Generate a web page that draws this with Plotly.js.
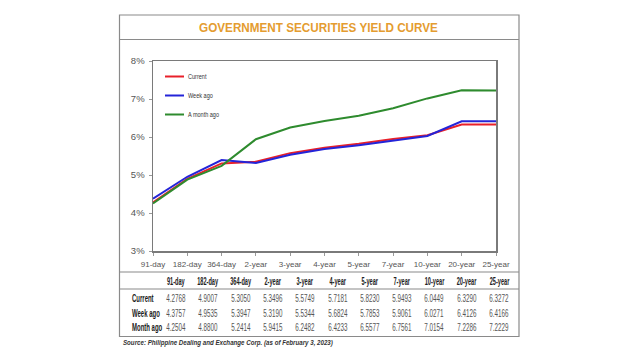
<!DOCTYPE html>
<html>
<head>
<meta charset="utf-8">
<script src="https://cdn.plot.ly/plotly-3.0.1.min.js"></script>
<style>html,body{margin:0;padding:0;background:#fff;}#chart{width:640px;height:360px;}</style>
</head>
<body>
<div id="chart"></div>
<script>
const tenors = ["91-day","182-day","364-day","2-year","3-year","4-year","5-year","7-year","10-year","20-year","25-year"];
const current  = [4.2768,4.9007,5.3050,5.3496,5.5749,5.7181,5.8230,5.9493,6.0449,6.3290,6.3272];
const weekAgo  = [4.3757,4.9535,5.3947,5.3190,5.5344,5.6824,5.7853,5.9061,6.0271,6.4126,6.4166];
const monthAgo = [4.2504,4.8800,5.2414,5.9415,6.2482,6.4233,6.5577,6.7561,7.0154,7.2286,7.2229];
const seriesNames = ["Current","Week ago","A month ago"];
const rowLabels = ["Current","Week ago","Month ago"];
const titleText = "GOVERNMENT SECURITIES YIELD CURVE";
const sourceText = "Source: Philippine Dealing and Exchange Corp. (as of February 3, 2023)";

// plot area in pixels
const L = 153, R = 496, T = 61, B = 251;
const px = x => (x - L) / (R - L);
const py = y => (B - y) / (B - T);

const sans = '"Liberation Sans", Arial, sans-serif';
const colors = ["#e8202a", "#2424d8", "#2e8b2e"];
const allSeries = [current, weekAgo, monthAgo];

const traces = allSeries.map((s, i) => ({
  x: tenors, y: s, type: "scatter", mode: "lines", name: seriesNames[i],
  line: {color: colors[i], width: 2}
}));

// table annotations (with a horizontal condensing factor each)
const annotations = [];
const squeeze = [];
const colX = i => 176 + i * 32.3;
tenors.forEach((t, i) => {
  annotations.push({xref: "paper", yref: "paper", x: px(colX(i)), y: py(281), text: "<b>" + t + "</b>",
    showarrow: false, xanchor: "center", yanchor: "middle", font: {family: sans, size: 10, color: "#222"}});
  squeeze.push(0.56);
});
const rowY = [298, 312.5, 327];
allSeries.forEach((s, r) => {
  annotations.push({xref: "paper", yref: "paper", x: px(130), y: py(rowY[r]), text: "<b>" + rowLabels[r] + "</b>",
    showarrow: false, xanchor: "left", align: "left", yanchor: "middle", font: {family: sans, size: 11.5, color: "#1a1a1a"}});
  squeeze.push(0.52);
  s.forEach((v, i) => {
    annotations.push({xref: "paper", yref: "paper", x: px(colX(i)), y: py(rowY[r]), text: v.toFixed(4),
      showarrow: false, xanchor: "center", yanchor: "middle", font: {family: sans, size: 11, color: "#555"}});
    squeeze.push(0.57);
  });
});
annotations.push({xref: "paper", yref: "paper", x: px(121), y: py(343), text: "<b><i>" + sourceText + "</i></b>",
  showarrow: false, xanchor: "left", align: "left", yanchor: "middle", font: {family: sans, size: 7, color: "#333"}});
squeeze.push(0.88);

const lineStyle = {color: "#8a8a8a", width: 1.2};
const shapes = [
  {type: "rect", xref: "paper", yref: "paper", x0: px(119.5), x1: px(519), y0: py(15), y1: py(336.5), line: lineStyle, layer: "below"},
  {type: "line", xref: "paper", yref: "paper", x0: px(119.5), x1: px(519), y0: py(39.5), y1: py(39.5), line: lineStyle},
  {type: "line", xref: "paper", yref: "paper", x0: px(119.5), x1: px(519), y0: py(272), y1: py(272), line: lineStyle},
  {type: "line", xref: "paper", yref: "paper", x0: px(119.5), x1: px(519), y0: py(289), y1: py(289), line: lineStyle}
];

const layout = {
  width: 640, height: 360,
  margin: {l: L, r: 640 - R, t: T, b: 360 - B, pad: 0},
  paper_bgcolor: "#fff", plot_bgcolor: "#fff",
  title: {text: "<b>" + titleText + "</b>", x: 318.5 / 640, xanchor: "center", y: 1 - 27.5 / 360, yanchor: "middle",
    font: {family: sans, size: 13, color: "#e49c30"}},
  showlegend: true,
  legend: {x: px(160), y: py(62), xanchor: "left", yanchor: "top", bgcolor: "rgba(0,0,0,0)",
    font: {family: sans, size: 6.5, color: "#333"}, itemwidth: 30},
  xaxis: {type: "category", range: [0, 10], showgrid: false, zeroline: false,
    showline: true, linecolor: "#7a7a7a", linewidth: 1.5, mirror: true,
    ticks: "outside", ticklen: 3, tickcolor: "#999", ticklabelstandoff: 2,
    tickfont: {family: sans, size: 8, color: "#555"}},
  yaxis: {range: [3, 8], dtick: 1, ticksuffix: "%", showgrid: false, zeroline: false,
    showline: true, linecolor: "#7a7a7a", linewidth: 1.5, mirror: true,
    ticks: "outside", ticklen: 3, tickcolor: "#999", ticklabelstandoff: 2,
    tickfont: {family: sans, size: 9.5, color: "#555"}},
  annotations: annotations,
  shapes: shapes
};

function condense(el, f) {
  const w = el.getComputedTextLength();
  if (w > 0) {
    el.setAttribute("textLength", (w * f).toFixed(2));
    el.setAttribute("lengthAdjust", "spacingAndGlyphs");
  }
  return w * (1 - f);
}

Plotly.newPlot("chart", traces, layout, {displayModeBar: false, staticPlot: true}).then(gd => {
  gd.querySelectorAll("g.annotation").forEach(g => {
    const idx = +g.getAttribute("data-index");
    const t = g.querySelector("text.annotation-text");
    if (!(t && squeeze[idx])) return;
    const saved = condense(t, squeeze[idx]);
    // shrink the annotation's background box to the condensed text
    const rect = g.querySelector("rect.bg");
    if (rect && saved > 0) {
      const w = +rect.getAttribute("width");
      const x = +(rect.getAttribute("x") || 0);
      const anchor = annotations[idx].xanchor;
      rect.setAttribute("width", Math.max(1, w - saved));
      if (anchor === "center") rect.setAttribute("x", x + saved / 2);
    }
  });
  const tt = gd.querySelector("text.gtitle");
  if (tt) condense(tt, 0.9);
  // shorter legend line samples, text closer
  gd.querySelectorAll(".legend .traces").forEach(tr => {
    tr.querySelectorAll(".legendlines path").forEach(p => p.setAttribute("d", "M5,0h19"));
    const lt = tr.querySelector("text.legendtext");
    if (lt) { lt.setAttribute("x", "28"); condense(lt, 0.85); }
  });
});
</script>
</body>
</html>
